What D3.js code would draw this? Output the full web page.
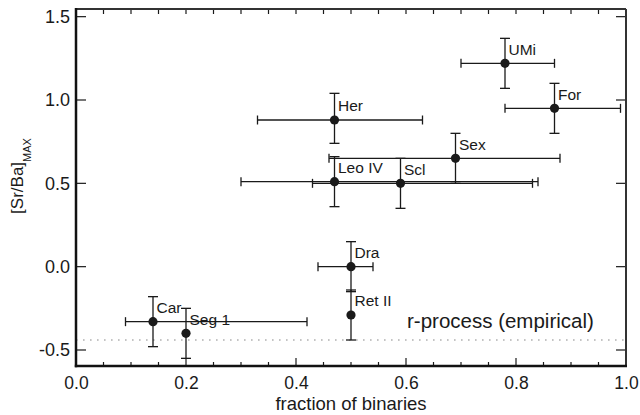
<!DOCTYPE html>
<html>
<head>
<meta charset="utf-8">
<script src="https://cdn.jsdelivr.net/npm/d3@7"></script>
<style>
  html, body { margin: 0; padding: 0; background: #fff; }
  svg { display: block; font-family: "Liberation Sans", Arial, Helvetica, sans-serif; }
</style>
</head>
<body>
<svg id="chart" width="640" height="415"></svg>
<script>
// ---- data ----
const galaxies   = ["Car", "Seg 1", "Dra", "Ret II", "Her", "Leo IV", "Scl", "Sex", "UMi", "For"];
const binFrac    = [0.14, 0.20, 0.50, 0.50, 0.47, 0.47, 0.59, 0.69, 0.78, 0.87];
const srBaMax    = [-0.33, -0.40, 0.00, -0.29, 0.88, 0.51, 0.50, 0.65, 1.22, 0.95];
const binFracLo  = [0.09, null, 0.44, null, 0.33, 0.30, 0.43, 0.46, 0.70, 0.78];
const binFracHi  = [0.42, null, 0.54, null, 0.63, 0.84, 0.83, 0.88, 0.87, 0.99];
const srBaLo     = [-0.48, -0.55, -0.15, -0.44, 0.74, 0.36, 0.35, 0.50, 1.07, 0.80];
const srBaHi     = [-0.18, -0.25, 0.15, -0.14, 1.04, 0.66, 0.65, 0.80, 1.37, 1.10];
const rProcessLevel = -0.44;
const rProcessLabel = "r-process (empirical)";
const xTickValues = [0.0, 0.2, 0.4, 0.6, 0.8, 1.0];
const yTickValues = [-0.5, 0.0, 0.5, 1.0, 1.5];
const xDomain = [0, 1];
const yDomain = [-0.596, 1.546];
const xTitle = "fraction of binaries";
const yTitleMain = "[Sr/Ba]";
const yTitleSub = "MAX";

// ---- layout ----
const svg = d3.select("#chart");
const L = 76, R = 626, T = 9, B = 366;
const x = d3.scaleLinear().domain(xDomain).range([L, R]);
const y = d3.scaleLinear().domain(yDomain).range([B, T]);
const ink = "#1a1a1a";

// r-process dotted line
svg.append("line")
  .attr("x1", L).attr("x2", R)
  .attr("y1", y(rProcessLevel)).attr("y2", y(rProcessLevel))
  .attr("stroke", "#8a8a8a").attr("stroke-width", 1.2)
  .attr("stroke-dasharray", "1.6,5.4");
svg.append("text")
  .attr("x", 407).attr("y", 328)
  .attr("font-size", 20.5).attr("fill", ink)
  .text(rProcessLabel);

// axes
const minorX = d3.range(0, 1.0001, 0.05);
const bottomAxis = d3.axisBottom(x).tickValues(xTickValues).tickFormat(d3.format(".1f")).tickSize(0).tickPadding(0);
const gb = svg.append("g").attr("transform", `translate(0,${B})`).call(bottomAxis);
gb.select(".domain").remove();
gb.selectAll("text").attr("font-size", 17.5).attr("fill", ink).attr("dy", null).attr("y", 22.5)
  .attr("font-family", "'Liberation Sans', Arial, sans-serif");

// bottom ticks (inward)
svg.append("g").selectAll("line").data(minorX).join("line")
  .attr("x1", d => x(d)).attr("x2", d => x(d))
  .attr("y1", B).attr("y2", d => B - (Math.abs(d * 5 - Math.round(d * 5)) < 1e-6 ? 8 : 4))
  .attr("stroke", ink).attr("stroke-width", 1.2);
// top ticks (inward)
svg.append("g").selectAll("line").data(minorX).join("line")
  .attr("x1", d => x(d)).attr("x2", d => x(d))
  .attr("y1", T).attr("y2", T + 5)
  .attr("stroke", ink).attr("stroke-width", 1.2);

const leftAxis = d3.axisLeft(y).tickValues(yTickValues).tickFormat(d3.format(".1f")).tickSize(0).tickPadding(6);
const gl = svg.append("g").attr("transform", `translate(${L},0)`).call(leftAxis);
gl.select(".domain").remove();
gl.selectAll("text").attr("font-size", 18).attr("fill", ink)
  .attr("font-family", "'Liberation Sans', Arial, sans-serif");
gl.selectAll("text").text(d => d3.format(".1f")(d).replace("−", "-"));

// left / right ticks inward
svg.append("g").selectAll("line").data(yTickValues).join("line")
  .attr("x1", L).attr("x2", L + 10).attr("y1", d => y(d)).attr("y2", d => y(d))
  .attr("stroke", ink).attr("stroke-width", 1.2);
svg.append("g").selectAll("line").data(yTickValues).join("line")
  .attr("x1", R).attr("x2", R - 10).attr("y1", d => y(d)).attr("y2", d => y(d))
  .attr("stroke", ink).attr("stroke-width", 1.2);

// frame
svg.append("line").attr("x1", L).attr("x2", R).attr("y1", T).attr("y2", T).attr("stroke", "#333").attr("stroke-width", 2);
svg.append("line").attr("x1", R).attr("x2", R).attr("y1", T).attr("y2", B).attr("stroke", "#333").attr("stroke-width", 2);
svg.append("line").attr("x1", L).attr("x2", L).attr("y1", T - 1).attr("y2", B + 1.2).attr("stroke", "#111").attr("stroke-width", 2.5);
svg.append("line").attr("x1", L - 1.2).attr("x2", R + 1).attr("y1", B).attr("y2", B).attr("stroke", "#111").attr("stroke-width", 2.5);

// axis titles
svg.append("text").attr("x", (L + R) / 2).attr("y", 409.5).attr("text-anchor", "middle")
  .attr("font-size", 18.5).attr("fill", ink).text(xTitle);
const yt = svg.append("text").attr("transform", "translate(23,176) rotate(-90)")
  .attr("text-anchor", "middle").attr("fill", ink);
yt.append("tspan").attr("font-size", 17).text(yTitleMain);
yt.append("tspan").attr("font-size", 11).attr("dy", 8).text(yTitleSub);

// error bars
const idx = d3.range(galaxies.length);
const eb = svg.append("g").attr("stroke", ink).attr("stroke-width", 1.3).attr("fill", "none");
idx.forEach(i => {
  const cx = x(binFrac[i]), cy = y(srBaMax[i]);
  if (binFracLo[i] != null) {
    eb.append("line").attr("x1", x(binFracLo[i])).attr("x2", x(binFracHi[i])).attr("y1", cy).attr("y2", cy);
    [binFracLo[i], binFracHi[i]].forEach(v =>
      eb.append("line").attr("x1", x(v)).attr("x2", x(v)).attr("y1", cy - 4.5).attr("y2", cy + 4.5));
  }
  eb.append("line").attr("x1", cx).attr("x2", cx).attr("y1", y(srBaLo[i])).attr("y2", y(srBaHi[i]));
  [srBaLo[i], srBaHi[i]].forEach(v =>
    eb.append("line").attr("x1", cx - 5).attr("x2", cx + 5).attr("y1", y(v)).attr("y2", y(v)));
});

// points
svg.append("g").selectAll("circle").data(idx).join("circle")
  .attr("cx", i => x(binFrac[i])).attr("cy", i => y(srBaMax[i]))
  .attr("r", 4.6).attr("fill", ink);

// labels
svg.append("g").selectAll("text").data(idx).join("text")
  .attr("x", i => x(binFrac[i]) + 3.5).attr("y", i => y(srBaMax[i]) - 8.6)
  .attr("font-size", 15.5).attr("fill", ink)
  .text(i => galaxies[i]);
</script>
</body>
</html>
